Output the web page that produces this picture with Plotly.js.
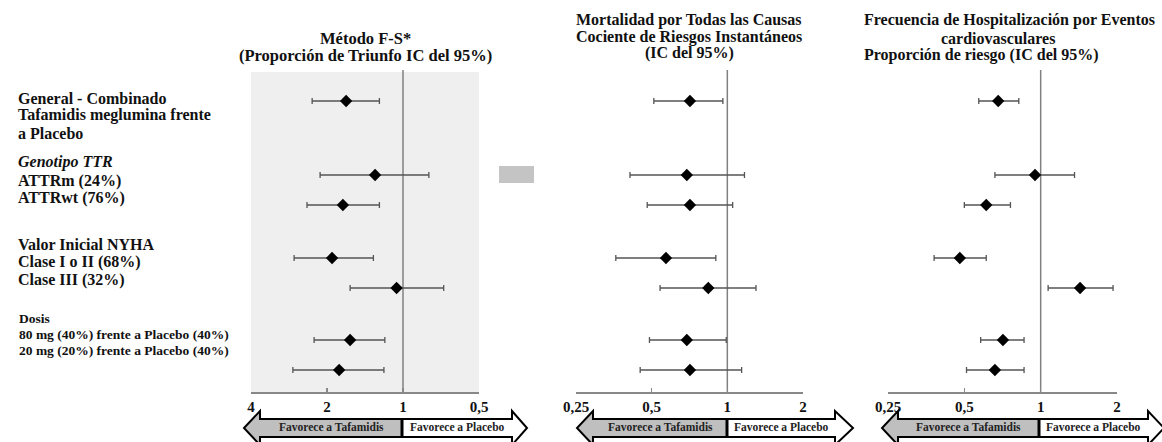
<!DOCTYPE html>
<html>
<head>
<meta charset="utf-8">
<script src="https://cdn.plot.ly/plotly-3.0.1.min.js"></script>
<style>html,body{margin:0;padding:0;background:#fff;}#chart{width:1162px;height:442px;}</style>
</head>
<body>
<div id="chart"></div>
<script>
// ---------------- DATA ----------------
const categories = ['General - Combinado', 'ATTRm (24%)', 'ATTRwt (76%)', 'Clase I o II (68%)', 'Clase III (32%)', '80 mg (40%)', '20 mg (20%)'];

// Método F-S* (Proporción de Triunfo, IC 95%)
const fsEst = [1.68, 1.29, 1.73, 1.91, 1.06, 1.62, 1.79];
const fsLo  = [1.24, 0.79, 1.24, 1.31, 0.69, 1.18, 1.19];
const fsHi  = [2.29, 2.13, 2.40, 2.70, 1.62, 2.25, 2.73];

// Mortalidad por todas las causas (HR, IC 95%)
const mortEst = [0.71, 0.69, 0.71, 0.57, 0.84, 0.69, 0.71];
const mortLo  = [0.51, 0.41, 0.48, 0.36, 0.54, 0.49, 0.45];
const mortHi  = [0.96, 1.17, 1.05, 0.90, 1.30, 0.99, 1.14];

// Hospitalización CV (Proporción de riesgo, IC 95%)
const hospEst = [0.68, 0.95, 0.61, 0.48, 1.43, 0.71, 0.66];
const hospLo  = [0.57, 0.66, 0.50, 0.38, 1.07, 0.58, 0.51];
const hospHi  = [0.82, 1.36, 0.76, 0.61, 1.93, 0.86, 0.86];

const fsTickVals = [4, 2, 1, 0.5];
const fsTickText = ['4', '2', '1', '0,5'];
const hrTickVals = [0.25, 0.5, 1, 2];
const hrTickText = ['0,25', '0,5', '1', '2'];

const refValue = [1, 1];

// ---------------- LAYOUT HELPERS ----------------
const W = 1162, H = 442;
const px = x => x / W;
const py = y => 1 - y / H;
const FONT = 'Liberation Serif, Times New Roman, serif';
const PLOT_TOP = 70, PLOT_BOTTOM = 392;
const rowY = [31, 105, 135, 188, 218, 270, 300]; // vertical row slots (layout)

function sub(arr, brr) { return arr.map((v, i) => +(v - brr[i]).toFixed(4)); }

function forestTrace(est, lo, hi, xa) {
  return {
    type: 'scatter', mode: 'markers', xaxis: xa, yaxis: 'y',
    x: est, y: rowY, text: categories,
    marker: {symbol: 'diamond', size: 9.5, color: '#000'},
    error_x: {type: 'data', symmetric: false, array: sub(hi, est), arrayminus: sub(est, lo),
              color: '#555', thickness: 1.3, width: 3},
    hoverinfo: 'skip', showlegend: false
  };
}
function refTrace(xa) {
  return {type: 'scatter', mode: 'lines', xaxis: xa, yaxis: 'y', x: refValue, y: [0, PLOT_BOTTOM - PLOT_TOP],
          line: {color: '#808080', width: 1.5}, hoverinfo: 'skip', showlegend: false};
}

const data = [
  refTrace('x'), refTrace('x2'), refTrace('x3'),
  forestTrace(fsEst, fsLo, fsHi, 'x'),
  forestTrace(mortEst, mortLo, mortHi, 'x2'),
  forestTrace(hospEst, hospLo, hospHi, 'x3')
];

function xax(d0, d1, range, tv, tt) {
  return {
    domain: [px(d0), px(d1)], type: 'log', range: range, anchor: 'y',
    showgrid: false, zeroline: false, showline: true, linecolor: '#888', linewidth: 1.5,
    ticks: 'inside', ticklen: 4, tickcolor: '#888', tickwidth: 1.5,
    tickvals: tv, ticktext: tt, fixedrange: true,
    tickfont: {family: FONT, size: 15, color: '#111', weight: 'bold'}
  };
}

// arrows
function arrowShapes(ltip, lbase, div, rbase, rtip) {
  const t = 419, b = 437, ht = 411, hb = 445, m = 428;
  const P = (x, y) => px(x).toFixed(5) + ',' + py(y).toFixed(5);
  const left = `M ${P(div,t)} L ${P(lbase,t)} L ${P(lbase,ht)} L ${P(ltip,m)} L ${P(lbase,hb)} L ${P(lbase,b)} L ${P(div,b)} Z`;
  const right = `M ${P(div,t)} L ${P(rbase,t)} L ${P(rbase,ht)} L ${P(rtip,m)} L ${P(rbase,hb)} L ${P(rbase,b)} L ${P(div,b)} Z`;
  return [
    {type: 'path', xref: 'paper', yref: 'paper', path: left, fillcolor: '#bfbfbf', line: {color: '#000', width: 2}},
    {type: 'path', xref: 'paper', yref: 'paper', path: right, fillcolor: '#ffffff', line: {color: '#000', width: 2}},
    {type: 'line', xref: 'paper', yref: 'paper', x0: px(div), x1: px(div), y0: py(t), y1: py(b), line: {color: '#000', width: 3}}
  ];
}
function arrowTexts(lbase, div, rbase) {
  return [
    {x: px((lbase + div) / 2), y: py(427), text: '<b>Favorece a Tafamidis</b>'},
    {x: px((div + rbase) / 2), y: py(427), text: '<b>Favorece a Placebo</b>'}
  ].map(a => Object.assign(a, {xref: 'paper', yref: 'paper', showarrow: false, xanchor: 'center', yanchor: 'middle',
                                font: {family: FONT, size: 11.5, color: '#222'}}));
}

const shapes = [
  {type: 'rect', xref: 'paper', yref: 'paper', x0: px(251), x1: px(479), y0: py(PLOT_BOTTOM), y1: py(72),
   fillcolor: '#efefef', line: {width: 0}, layer: 'below'},
  {type: 'rect', xref: 'paper', yref: 'paper', x0: px(499), x1: px(534), y0: py(183), y1: py(166),
   fillcolor: '#c4c4c4', line: {width: 0}},
  ...arrowShapes(244, 260, 402, 512, 527),
  ...arrowShapes(577, 593, 727, 835, 853),
  ...arrowShapes(882, 898, 1039, 1148, 1164)
];

function txt(x, y, text, size, anchor) {
  return {xref: 'paper', yref: 'paper', x: px(x), y: py(y), text: text, showarrow: false,
          xanchor: anchor || 'left', yanchor: 'middle', font: {family: FONT, size: size, color: '#111'}};
}

const annotations = [
  // panel titles
  txt(365, 38, '<b>Método F-S*</b>', 16.5, 'center'),
  txt(365, 55, '<b>(Proporción de Triunfo IC del 95%)</b>', 16.5, 'center'),
  txt(689, 20, '<b>Mortalidad por Todas las Causas</b>', 16, 'center'),
  txt(689, 37, '<b>Cociente de Riesgos Instantáneos</b>', 16, 'center'),
  txt(689, 53, '<b>(IC del 95%)</b>', 16, 'center'),
  txt(862, 20, '<b>Frecuencia de Hospitalización por Eventos</b>', 16, 'left'),
  txt(998, 38, '<b>cardiovasculares</b>', 16, 'center'),
  txt(862, 55, '<b>Proporción de riesgo (IC del 95%)</b>', 16, 'left'),
  // row labels
  txt(16, 98, '<b>General - Combinado</b>', 16),
  txt(16, 115, '<b>Tafamidis meglumina frente</b>', 16),
  txt(16, 133, '<b>a Placebo</b>', 16),
  txt(16, 162, '<b><i>Genotipo TTR</i></b>', 16),
  txt(16, 181, '<b>ATTRm (24%)</b>', 16),
  txt(16, 198, '<b>ATTRwt (76%)</b>', 16),
  txt(16, 244, '<b>Valor Inicial NYHA</b>', 16),
  txt(16, 262, '<b>Clase I o II (68%)</b>', 16),
  txt(16, 280, '<b>Clase III (32%)</b>', 16),
  txt(17, 318, '<b>Dosis</b>', 13.5),
  txt(17, 334, '<b>80 mg (40%) frente a Placebo (40%)</b>', 13.5),
  txt(17, 350, '<b>20 mg (20%) frente a Placebo (40%)</b>', 13.5),
  ...arrowTexts(260, 402, 512),
  ...arrowTexts(593, 727, 835),
  ...arrowTexts(898, 1039, 1148)
];

const layout = {
  width: W, height: H,
  margin: {l: 0, r: 0, t: 0, b: 0, pad: 0},
  paper_bgcolor: '#ffffff', plot_bgcolor: 'rgba(0,0,0,0)',
  font: {family: FONT, color: '#111'},
  showlegend: false,
  xaxis: xax(251, 479, [Math.log10(4), Math.log10(0.5)], fsTickVals, fsTickText),
  xaxis2: xax(576, 803, [Math.log10(0.25), Math.log10(2)], hrTickVals, hrTickText),
  xaxis3: xax(888, 1117, [Math.log10(0.25), Math.log10(2)], hrTickVals, hrTickText),
  yaxis: {domain: [py(PLOT_BOTTOM), py(PLOT_TOP)], range: [PLOT_BOTTOM - PLOT_TOP, 0], visible: false,
          anchor: 'x', fixedrange: true, showgrid: false, zeroline: false},
  shapes: shapes,
  annotations: annotations
};

Plotly.newPlot('chart', data, layout, {staticPlot: true, displayModeBar: false});
</script>
</body>
</html>
